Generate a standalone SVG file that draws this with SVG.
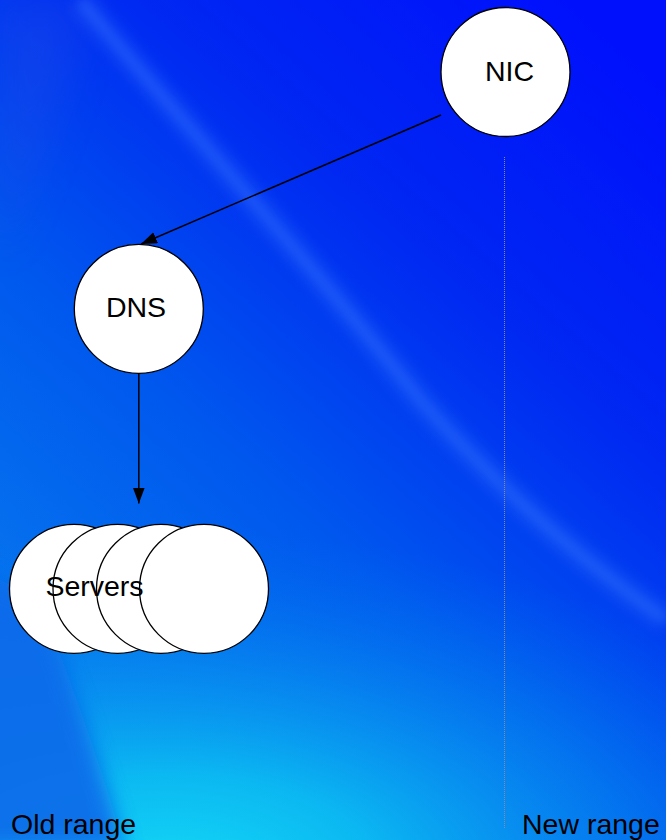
<svg xmlns="http://www.w3.org/2000/svg" width="666" height="840" viewBox="0 0 666 840">
  <defs>
    <style>
      .node { fill: #ffffff; stroke: #000000; stroke-width: 1.3; }
      .lbl { font-family: "Liberation Sans", Arial, sans-serif; font-size: 28.5px; fill: #000000; }
      .conn { stroke: #000000; stroke-width: 1.5; fill: none; }
      .guide { stroke: #8a8aa8; stroke-width: 1; stroke-dasharray: 1 1; fill: none; }
    </style>
    <linearGradient id="bg" x1="0.85" y1="0" x2="0.15" y2="1">
      <stop offset="0" stop-color="#0010fc"/>
      <stop offset="0.3" stop-color="#0028f2"/>
      <stop offset="0.6" stop-color="#0058ee"/>
      <stop offset="1" stop-color="#0880ee"/>
    </linearGradient>
    <radialGradient id="cyan" gradientUnits="userSpaceOnUse" cx="170" cy="880" r="700" gradientTransform="translate(170,880) scale(1,0.5) translate(-170,-880)">
      <stop offset="0" stop-color="#14dcf6" stop-opacity="1"/>
      <stop offset="0.3" stop-color="#0cc0f2" stop-opacity="0.9"/>
      <stop offset="0.6" stop-color="#0896f0" stop-opacity="0.6"/>
      <stop offset="1" stop-color="#0070ee" stop-opacity="0"/>
    </radialGradient>
    <filter id="blur" x="-20%" y="-20%" width="140%" height="140%">
      <feGaussianBlur stdDeviation="7"/>
    </filter>
    <filter id="blurS" x="-20%" y="-20%" width="140%" height="140%">
      <feGaussianBlur stdDeviation="4"/>
    </filter>
    <filter id="blurM" x="-50%" y="-50%" width="200%" height="200%">
      <feGaussianBlur stdDeviation="10"/>
    </filter>
    <filter id="blur2" x="-20%" y="-20%" width="140%" height="140%">
      <feGaussianBlur stdDeviation="20"/>
    </filter>
    <marker id="arrow" markerUnits="userSpaceOnUse" markerWidth="18" markerHeight="14" refX="16" refY="6" orient="auto">
      <path d="M0,0 L16,6 L0,12 Z" fill="#000000"/>
    </marker>
  </defs>

  <g id="background">
    <rect x="0" y="0" width="666" height="840" fill="url(#bg)"/>
    <path d="M0,0 L90,0 C60,120 20,200 0,260 Z" fill="#3050e0" opacity="0.25" filter="url(#blur2)"/>
    <rect x="0" y="440" width="666" height="400" fill="url(#cyan)"/>
    <path d="M-40,560 L40,600 C70,680 100,760 125,850 L-40,850 Z" fill="#0a6aea" opacity="0.9" filter="url(#blurM)"/>
    <path d="M80,0 C180,120 300,250 420,400 C500,490 580,560 666,620" stroke="#3a78ff" stroke-width="22" fill="none" opacity="0.35" filter="url(#blur)"/>
    <path d="M80,0 C180,120 300,250 420,400 C500,490 580,560 666,620" stroke="#3f80ff" stroke-width="6" fill="none" opacity="0.22" filter="url(#blurS)"/>
  </g>

  <g id="connectors">
    <line class="conn" x1="441" y1="115" x2="141" y2="244" marker-end="url(#arrow)"/>
    <line class="conn" x1="138.8" y1="373.5" x2="138.8" y2="503.5" marker-end="url(#arrow)"/>
    <line class="guide" x1="504.5" y1="157" x2="504.5" y2="828"/>
  </g>

  <g id="node-nic">
    <circle class="node" cx="505.5" cy="72" r="64.5"/>
    <text class="lbl" x="509.5" y="80.5" text-anchor="middle">NIC</text>
  </g>

  <g id="node-dns">
    <circle class="node" cx="138.8" cy="308.8" r="64.5"/>
    <text class="lbl" x="136" y="317.3" text-anchor="middle">DNS</text>
  </g>

  <g id="node-servers">
    <circle class="node" cx="74" cy="588.8" r="64.5"/>
    <circle class="node" cx="117.5" cy="588.8" r="64.5"/>
    <circle class="node" cx="161" cy="588.8" r="64.5"/>
    <circle class="node" cx="204" cy="588.8" r="64.5"/>
    <text class="lbl" x="94.5" y="595.5" text-anchor="middle">Servers</text>
  </g>

  <g id="labels">
    <text class="lbl" x="11" y="833.5">Old range</text>
    <text class="lbl" x="522" y="833.5">New range</text>
  </g>
</svg>
